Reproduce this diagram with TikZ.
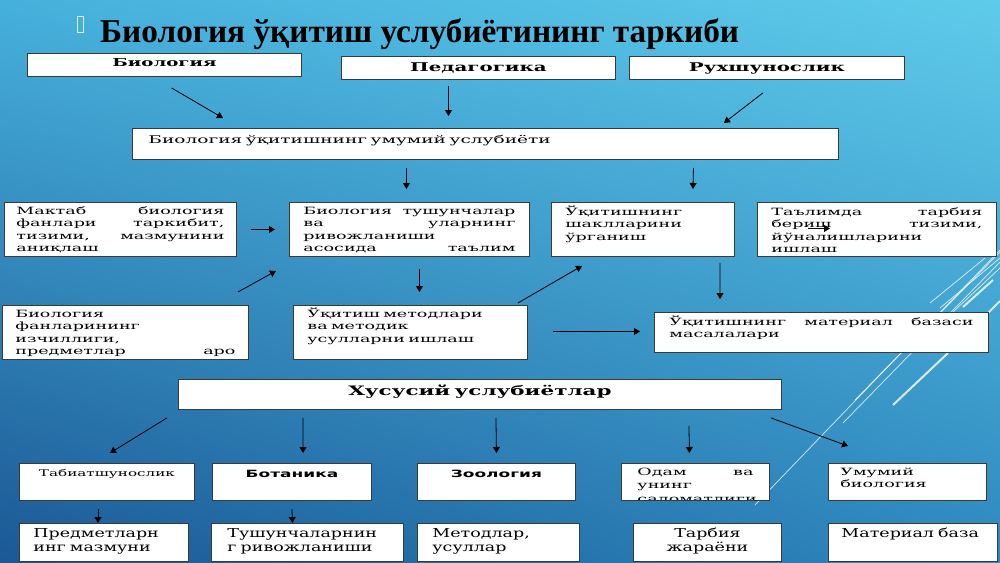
\documentclass[tikz,border=0pt]{standalone}
\usepackage{fontspec}
\usepackage{xcolor}
\usepackage{tikz}
\usetikzlibrary{arrows.meta,positioning,shadings}
\setmainfont{Liberation Serif}
\newfontfamily\cellfont[FakeStretch=1.75]{DejaVu Serif}
\newfontfamily\headfont[FakeStretch=1.65]{DejaVu Serif}
\newfontfamily\basefont[FakeStretch=1.42]{DejaVu Serif}
\newfontfamily\tagfont[FakeStretch=1.7]{DejaVu Sans}
\newcommand{\spread}{\nobreak\hfill}
\definecolor{skytop}{HTML}{5FCBEA}
\definecolor{skyleft}{HTML}{46B0DC}
\definecolor{deepblue}{HTML}{1B5895}
\definecolor{midblue}{HTML}{2E88BF}
\definecolor{frameline}{HTML}{3A3A3A}

\begin{document}
\begin{tikzpicture}[
    x=1pt, y=-1pt,
    box/.style={draw=frameline, fill=white, line width=0.9pt, anchor=north west,
                inner xsep=14pt, inner ysep=0pt, align=left,
                font=\cellfont\fontsize{10}{12.4}\selectfont},
    head/.style={box, align=center, font=\headfont\fontsize{12}{14}\selectfont\bfseries},
    leaf/.style={box, font=\basefont\fontsize{12.3}{14}\selectfont},
    arrow/.style={-{Triangle[length=6pt,width=7pt]}, line width=0.8pt},
    deco/.style={white, line width=0.7pt, opacity=0.8}
]
\useasboundingbox (0,0) rectangle (1000,562);
\shade[upper left=skyleft, upper right=skytop, lower left=deepblue, lower right=midblue]
    (0,0) rectangle (1000,562);
\draw[deco] (755,505) -- (1000,250);
\draw[deco] (843,423) -- (1000,262);
\draw[deco] (855,400) -- (1000,252);
\draw[deco, line width=2pt] (893,405) -- (948,353);
\draw[deco] (930,303) -- (985,258);
\draw[deco] (940,308) -- (1000,258);
\draw[deco] (953,312) -- (1000,268);
\draw[deco, line width=2pt] (963,307) -- (993,280);
\draw[deco, line width=2pt] (988,313) -- (1000,301);

\node[draw=cyan!15, line width=0.6pt, inner sep=0pt, minimum width=6pt,
      minimum height=16pt, anchor=north west] (bullet) at (77,16) {};
\node[anchor=base west, inner sep=0pt, font=\fontsize{33.3}{36}\selectfont\bfseries]
    (title) at (100,42) {Биология ўқитиш услубиётининг таркиби};

\node[head, font=\headfont\fontsize{11}{13}\selectfont\bfseries, text width=246pt,
      text height=13pt, text depth=10pt] (bio) at (27,53) {Биология};
\node[head, text width=246pt, text height=15pt, text depth=8pt] (ped) at (341,56) {Педагогика};
\node[head, text width=247pt, text height=15pt, text depth=8pt] (psy) at (629,56) {Рухшунослик};

\node[box, inner xsep=16pt, font=\cellfont\fontsize{10.6}{12.4}\selectfont, text width=674pt,
      text height=15pt, text depth=16pt] (general) at (132,128) {Биология ўқитишнинг умумий услубиёти};

\node[box, inner xsep=12pt, text width=208pt, text height=12pt, text depth=42pt] (school) at (4,202)
    {Мактаб\spread биология\\ фанлари\spread таркибит,\\ тизими,\spread мазмунини\\ аниқлаш};
\node[box, text width=212pt, text height=12pt, text depth=42pt] (concepts) at (289,202)
    {Биология\spread тушунчалар\\ ва\spread уларнинг\\ ривожланиши\\ асосида\spread таълим};
\node[box, text width=155pt, text height=13pt, text depth=41pt] (forms) at (551,202)
    {Ўқитишнинг\\ шаклларини\\ ўрганиш};
\node[box, text width=211pt, text height=13pt, text depth=41pt] (upbringing) at (757,202)
    {Таълимда\spread тарбия\\ бериш\spread тизими,\\ йўналишларини\\ ишлаш};

\node[box, inner xsep=13pt, text width=220pt, text height=12pt, text depth=42pt] (continuity) at (2,305)
    {Биология\\ фанларининг\\ изчиллиги,\\ предметлар\spread аро};
\node[box, text width=206pt, text height=12pt, text depth=42pt] (methods) at (293,305)
    {Ўқитиш методлари\\ ва методик\\ усулларни ишлаш};
\node[box, inner xsep=15pt, text width=304pt, text height=13pt, text depth=27pt] (material) at (654,312)
    {Ўқитишнинг\spread материал\spread базаси\\ масалалари};

\node[head, font=\headfont\fontsize{13}{15}\selectfont\bfseries, text width=575pt,
      text height=16pt, text depth=14pt] (special) at (178,379) {Хусусий услубиётлар};

\node[box, align=center, inner xsep=8pt, font=\headfont\fontsize{9.2}{12}\selectfont,
      text width=159pt, text height=13pt, text depth=24pt] (nature) at (19,463) {Табиатшунослик};
\node[box, align=center, inner xsep=8pt, font=\tagfont\fontsize{10}{12}\selectfont\bfseries,
      text width=143pt, text height=14pt, text depth=23pt] (botany) at (212,463) {Ботаника};
\node[box, align=center, inner xsep=8pt, font=\tagfont\fontsize{10}{12}\selectfont\bfseries,
      text width=142pt, text height=14pt, text depth=23pt] (zoology) at (417,463) {Зоология};
\node[box, inner sep=0pt, minimum width=148pt, minimum height=37pt] (human) at (621,463) {};
\begin{scope}
  \clip ([shift={(1,1)}]human.north west) rectangle ([shift={(-1,-1)}]human.south east);
  \node[box, draw=none, fill=none, inner xsep=16pt, font=\cellfont\fontsize{10}{13.5}\selectfont,
        text width=116pt, text height=12pt, text depth=25pt] (humantext) at (621,463)
        {Одам\spread ва\\ унинг\\ саломатлиги};
\end{scope}
\node[box, inner xsep=12pt, text width=134pt, text height=12pt, text depth=25pt] (genbio) at (828,463)
    {Умумий\\ биология};

\node[leaf, text width=141pt, text height=14pt, text depth=24pt] (content) at (19,523)
    {Предметларн\\ инг мазмуни};
\node[leaf, inner xsep=16pt, text width=160pt, text height=14pt, text depth=24pt] (devel) at (211,523)
    {Тушунчаларнин\\ г ривожланиши};
\node[leaf, inner xsep=15pt, text width=132pt, text height=14pt, text depth=24pt] (techniques) at (417,523)
    {Методлар,\\ усуллар};
\node[leaf, align=center, inner xsep=8pt, text width=132pt, text height=14pt, text depth=24pt] (process) at (633,523)
    {Тарбия\\ жараёни};
\node[leaf, inner xsep=13pt, text width=143pt, text height=14pt, text depth=24pt] (base) at (828,523)
    {Материал база};

\draw[arrow] ([shift={(7,11)}]bio.south) -- ([shift={(91,-10)}]general.north west);
\draw[arrow] ([shift={(-30,6)}]ped.south) -- ([shift={(-37,-12)}]general.north);
\draw[arrow] ([shift={(-4,13)}]psy.south) -- ([shift={(-115,-5)}]general.north east);
\draw[arrow] ([shift={(-79,8)}]general.south) -- ([shift={(-3,-13)}]concepts.north);
\draw[arrow] ([shift={(208,8)}]general.south) -- ([shift={(50,-13)}]forms.north);
\draw[arrow] ([shift={(14,0)}]school.east) -- ([shift={(-14,0)}]concepts.west);
\draw[arrow] ([shift={(51,-1)}]upbringing.west) -- ([shift={(73,-1)}]upbringing.west);
\draw[arrow] ([shift={(-11,-13)}]continuity.north east) -- ([shift={(-13,14)}]concepts.south west);
\draw[arrow] ([shift={(10,12)}]concepts.south) -- ([shift={(9,-13)}]methods.north);
\draw[arrow] ([shift={(-10,-2)}]methods.north east) -- ([shift={(31,9)}]forms.south west);
\draw[arrow] ([shift={(77,6)}]forms.south) -- ([shift={(66,-13)}]material.north west);
\draw[arrow] ([shift={(25,-1)}]methods.east) -- ([shift={(-14,-1)}]material.west);
\draw[arrow] ([shift={(-11,8)}]special.south west) -- ([shift={(3,-10)}]nature.north);
\draw[arrow] ([shift={(125,8)}]special.south west) -- ([shift={(11,-10)}]botany.north);
\draw[arrow] ([shift={(16,8)}]special.south) -- ([shift={(0,-10)}]zoology.north);
\draw[arrow] ([shift={(209,16)}]special.south) -- ([shift={(-6,-10)}]human.north);
\draw[arrow] ([shift={(-11,8)}]special.south east) -- ([shift={(20,-17)}]genbio.north west);
\draw[arrow] ([shift={(-9,8)}]nature.south) -- ([shift={(-6,0)}]content.north);
\draw[arrow] ([shift={(0,8)}]botany.south) -- ([shift={(-15,0)}]devel.north);
\end{tikzpicture}
\end{document}
